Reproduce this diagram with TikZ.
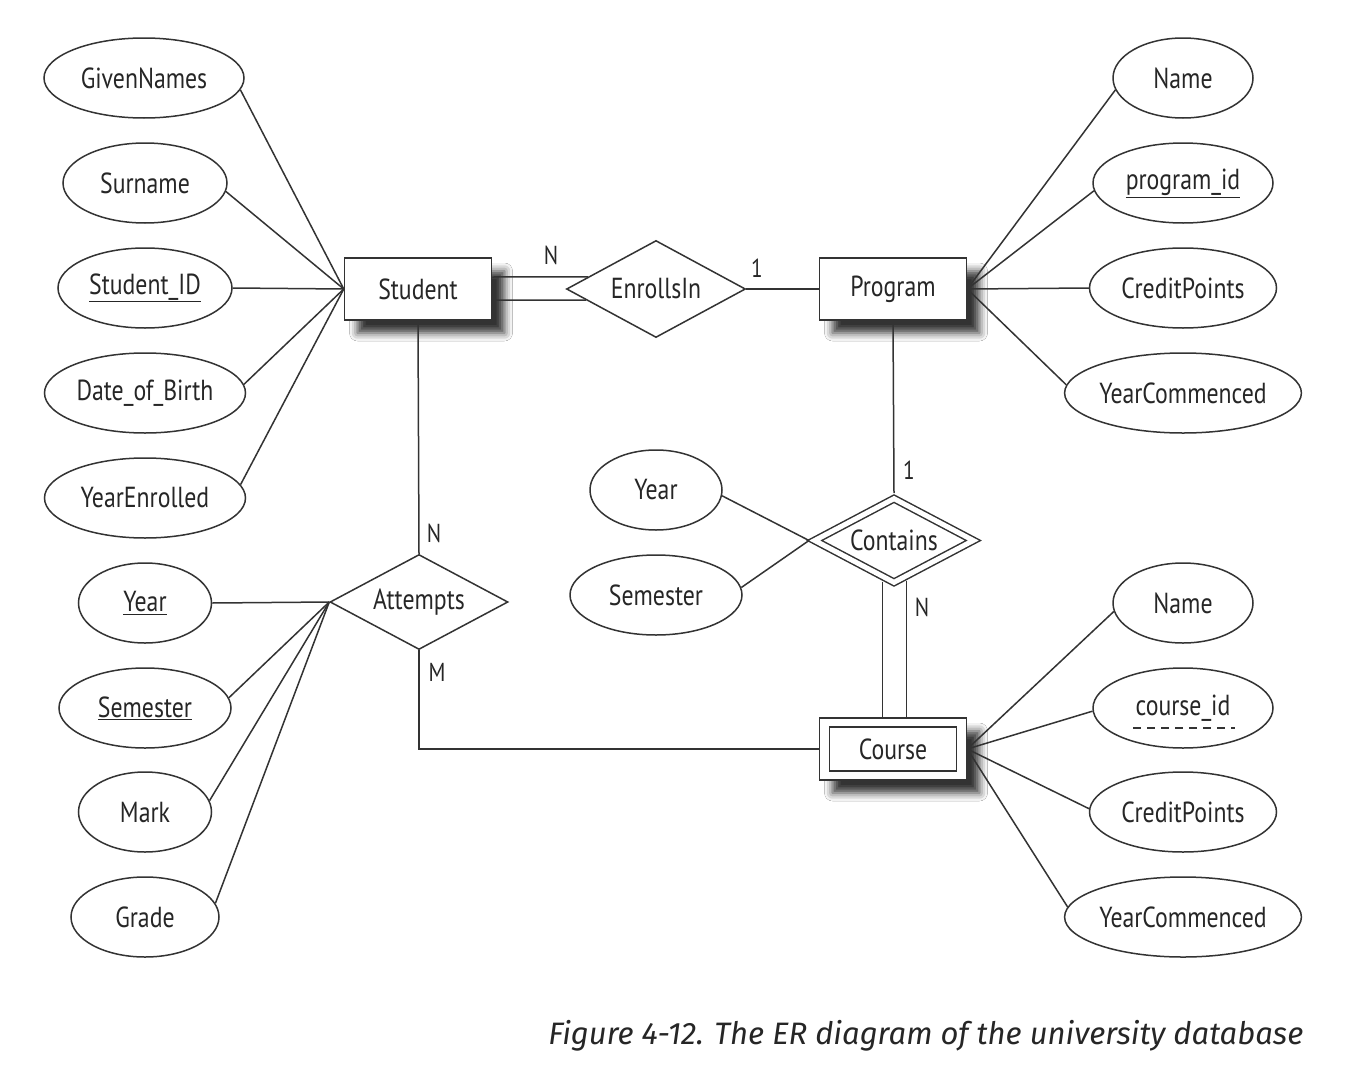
\documentclass[tikz,border=0pt]{standalone}
\usepackage{fontspec}
\setmainfont[FakeStretch=0.82]{PT Sans}
\newfontfamily\capfont{Fira Sans}
\usetikzlibrary{shapes.geometric,shadows.blur,calc}
\begin{document}
\begin{tikzpicture}[x=1pt,y=-1pt,
  line width=1.5pt, draw=black!80,
  every node/.style={text=black!85, font=\fontsize{29}{32}\selectfont},
  attr/.style={ellipse, draw, inner sep=0pt, minimum height=80pt},
  ent/.style={rectangle, draw, fill=white, minimum width=147pt, minimum height=62pt, inner sep=0pt,
    blur shadow={shadow xshift=13pt, shadow yshift=-13pt, shadow blur radius=8pt, shadow opacity=80}},
  rel/.style={diamond, draw, fill=white, inner sep=0pt, aspect=1.84},
  card/.style={inner sep=0pt, font=\fontsize{26}{28}\selectfont}]
\path[use as bounding box, fill=white] (0,0) rectangle (1368,1092);

% entities
\node[ent] (student) at (418,289) {Student};
\node[ent] (program) at (893,289) {Program};
\node[ent] (courseo) at (893,749) {};
\node[draw, rectangle, minimum width=127pt, minimum height=44pt, inner sep=0pt] (course) at (893,749) {Course};

% relationships
\node[rel, minimum width=179pt, minimum height=97pt] (enr) at (656,289) {EnrollsIn};
\node[rel, minimum width=178pt, minimum height=95pt] (att) at (419,602) {Attempts};
\node[rel, double, double distance=5pt, outer sep=4pt, minimum width=162pt, minimum height=87pt] (con) at (894,540.5) {Contains};

% Student attributes
\node[attr, minimum width=200pt] (gn) at (144,78) {GivenNames};
\node[attr, minimum width=164pt] (sn) at (145,183) {Surname};
\node[attr, minimum width=174pt] (sid) at (145,288) {\underline{Student\_ID}};
\node[attr, minimum width=201pt] (dob) at (145,393) {Date\_of\_Birth};
\node[attr, minimum width=201pt] (ye) at (145,498) {YearEnrolled};

% Program attributes
\node[attr, minimum width=140pt] (pname) at (1183,78) {Name};
\node[attr, minimum width=180pt] (pid) at (1183,183) {\underline{program\_id}};
\node[attr, minimum width=187pt] (pcp) at (1183,288) {CreditPoints};
\node[attr, minimum width=230pt] (pyc) at (1183,393) {YearCommenced};

% Attempts attributes
\node[attr, minimum width=133pt] (ayear) at (145,603) {\underline{Year}};
\node[attr, minimum width=172pt] (asem) at (145,708) {\underline{Semester}};
\node[attr, minimum width=133pt] (amark) at (145,812) {Mark};
\node[attr, minimum width=148pt] (agrade) at (145,917) {Grade};

% Contains attributes
\node[attr, minimum width=132pt] (cyear) at (656,490) {Year};
\node[attr, minimum width=172pt] (csem) at (656,595) {Semester};

% Course attributes
\node[attr, minimum width=140pt] (cname) at (1183,603) {Name};
\node[attr, minimum width=180pt] (cid) at (1183,708) {course\_id};
\node[attr, minimum width=187pt] (ccp) at (1183,812) {CreditPoints};
\node[attr, minimum width=230pt] (cyc) at (1183,917) {YearCommenced};
\draw[dash pattern=on 8pt off 6pt] ($(cid.center)+(-50,20)$) -- ($(cid.center)+(52,20)$);

% attribute connectors
\draw (gn.-7) -- (student.west);
\draw (sn.-6) -- (student.west);
\draw (sid.east) -- (student.west);
\draw (dob.5) -- (student.west);
\draw (ye.8) -- (student.west);
\draw (pname.190) -- (program.east);
\draw (pid.185) -- (program.east);
\draw (pcp.west) -- (program.east);
\draw (pyc.176) -- (program.east);
\draw (ayear.east) -- (att.west);
\draw (asem.7) -- (att.west);
\draw (amark.10) -- (att.west);
\draw (agrade.11) -- (att.west);
\draw (cyear.-5) -- (con.west);
\draw (csem.5) -- (con.west);
\draw (cname.187) -- (courseo.east);
\draw (cid.182) -- (courseo.east);
\draw (ccp.178) -- (courseo.east);
\draw (cyc.175) -- (courseo.east);

% relationship connectors
\draw ([yshift=12pt]student.east) -- ($(enr.west)!0.247!(enr.north)$);
\draw ([yshift=-11pt]student.east) -- ($(enr.west)!0.227!(enr.south)$);
\draw (enr.east) -- (program.west);
\draw (student.south) -- (att.north);
\draw (att.south) -- (att.south |- courseo.west) -- (courseo.west);
\draw (program.south) -- (con.north);
\draw ($(con.south)!0.136!(con.west)$) coordinate (cl) -- (cl |- courseo.north);
\draw ($(con.south)!0.148!(con.east)$) coordinate (cr) -- (cr |- courseo.north);

% cardinalities
\node[card] (c1) at (551,255) {N};
\node[card] (c2) at (757,268) {1};
\node[card] (c3) at (434,533) {N};
\node[card] (c4) at (437,672) {M};
\node[card] (c5) at (909,470) {1};
\node[card] (c6) at (922,607) {N};

% caption
\node[anchor=east, inner sep=0pt, font=\capfont\itshape\fontsize{31}{34}\selectfont] (cap) at (1304,1036)
  {Figure 4-12. The ER diagram of the university database};
\end{tikzpicture}
\end{document}
